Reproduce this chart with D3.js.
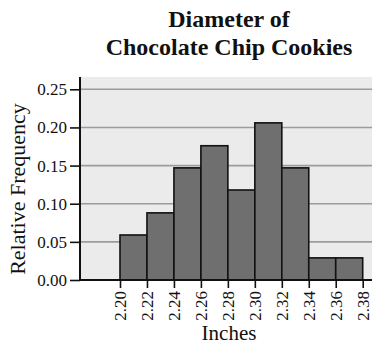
<!DOCTYPE html>
<html>
<head>
<meta charset="utf-8">
<script src="https://cdn.jsdelivr.net/npm/d3@7"></script>
<style>
  html, body { margin: 0; padding: 0; background: #fff; }
  svg { display: block; }
  text { font-family: "Liberation Serif", "Times New Roman", serif; fill: #111; }
</style>
</head>
<body>
<svg id="chart" width="376" height="346"></svg>
<script>
// Histogram bins (lower edges, inches) and their relative frequencies
const binStarts = [2.20, 2.22, 2.24, 2.26, 2.28, 2.30, 2.32, 2.34, 2.36];
const binWidth = 0.02;
const relFreq = [0.059, 0.088, 0.147, 0.176, 0.118, 0.206, 0.147, 0.029, 0.029];
const xTicks = [2.20, 2.22, 2.24, 2.26, 2.28, 2.30, 2.32, 2.34, 2.36, 2.38];
const yTicks = [0.00, 0.05, 0.10, 0.15, 0.20, 0.25];
const titleLines = ["Diameter of", "Chocolate Chip Cookies"];

const svg = d3.select("#chart");
const plot = { left: 80, right: 372, top: 77, bottom: 280 };

const x = d3.scaleLinear().domain([2.20, 2.38]).range([120, 362.7]);
const y = d3.scaleLinear().domain([0, 0.25]).range([plot.bottom, 89.3]);

// Panel background
svg.append("rect")
  .attr("x", plot.left).attr("y", plot.top)
  .attr("width", plot.right - plot.left).attr("height", plot.bottom - plot.top)
  .attr("fill", "#ebebeb");

// Horizontal gridlines
svg.append("g").selectAll("line")
  .data(yTicks.filter(d => d > 0))
  .join("line")
  .attr("x1", plot.left).attr("x2", plot.right)
  .attr("y1", d => y(d)).attr("y2", d => y(d))
  .attr("stroke", "#9c9c9c").attr("stroke-width", 1.6);

// Bars
svg.append("g").selectAll("rect")
  .data(binStarts.map((b, i) => ({ b, v: relFreq[i] })))
  .join("rect")
  .attr("x", d => x(d.b))
  .attr("y", d => y(d.v))
  .attr("width", d => x(d.b + binWidth) - x(d.b))
  .attr("height", d => y(0) - y(d.v))
  .attr("fill", "#6f6f6f")
  .attr("stroke", "#111").attr("stroke-width", 1.6);

// X axis
const xAxis = svg.append("g")
  .attr("transform", `translate(0,${plot.bottom})`)
  .call(d3.axisBottom(x).tickValues(xTicks).tickFormat(d3.format(".2f")).tickSize(8).tickPadding(4));
xAxis.select(".domain").remove();
xAxis.selectAll(".tick line").attr("stroke", "#111").attr("stroke-width", 1.6);
xAxis.selectAll(".tick text")
  .attr("transform", "rotate(-90)")
  .attr("text-anchor", "end")
  .attr("x", -11).attr("y", 0).attr("dy", "0.35em")
  .style("font-size", "17px")
  .style("font-family", "'Liberation Serif', serif");
svg.append("line")
  .attr("x1", plot.left).attr("x2", plot.right)
  .attr("y1", plot.bottom).attr("y2", plot.bottom)
  .attr("stroke", "#111").attr("stroke-width", 2);

// Y axis
const yAxis = svg.append("g")
  .attr("transform", `translate(${plot.left},0)`)
  .call(d3.axisLeft(y).tickValues(yTicks).tickFormat(d3.format(".2f")).tickSize(10).tickPadding(3));
yAxis.select(".domain").remove();
yAxis.selectAll(".tick line").attr("stroke", "#111").attr("stroke-width", 1.6);
yAxis.selectAll(".tick text")
  .style("font-size", "17px")
  .style("font-family", "'Liberation Serif', serif");
svg.append("line")
  .attr("x1", plot.left).attr("x2", plot.left)
  .attr("y1", plot.top).attr("y2", plot.bottom)
  .attr("stroke", "#111").attr("stroke-width", 2);

// Title
svg.append("g").selectAll("text")
  .data(titleLines)
  .join("text")
  .attr("x", 229)
  .attr("y", (d, i) => 27 + i * 28)
  .attr("text-anchor", "middle")
  .style("font-size", "24px")
  .style("font-weight", "bold")
  .text(d => d);

// Axis titles
svg.append("text")
  .attr("x", 229).attr("y", 340)
  .attr("text-anchor", "middle")
  .style("font-size", "21px")
  .text("Inches");

svg.append("text")
  .attr("transform", "translate(25,189) rotate(-90)")
  .attr("text-anchor", "middle")
  .style("font-size", "22px")
  .text("Relative Frequency");
</script>
</body>
</html>
